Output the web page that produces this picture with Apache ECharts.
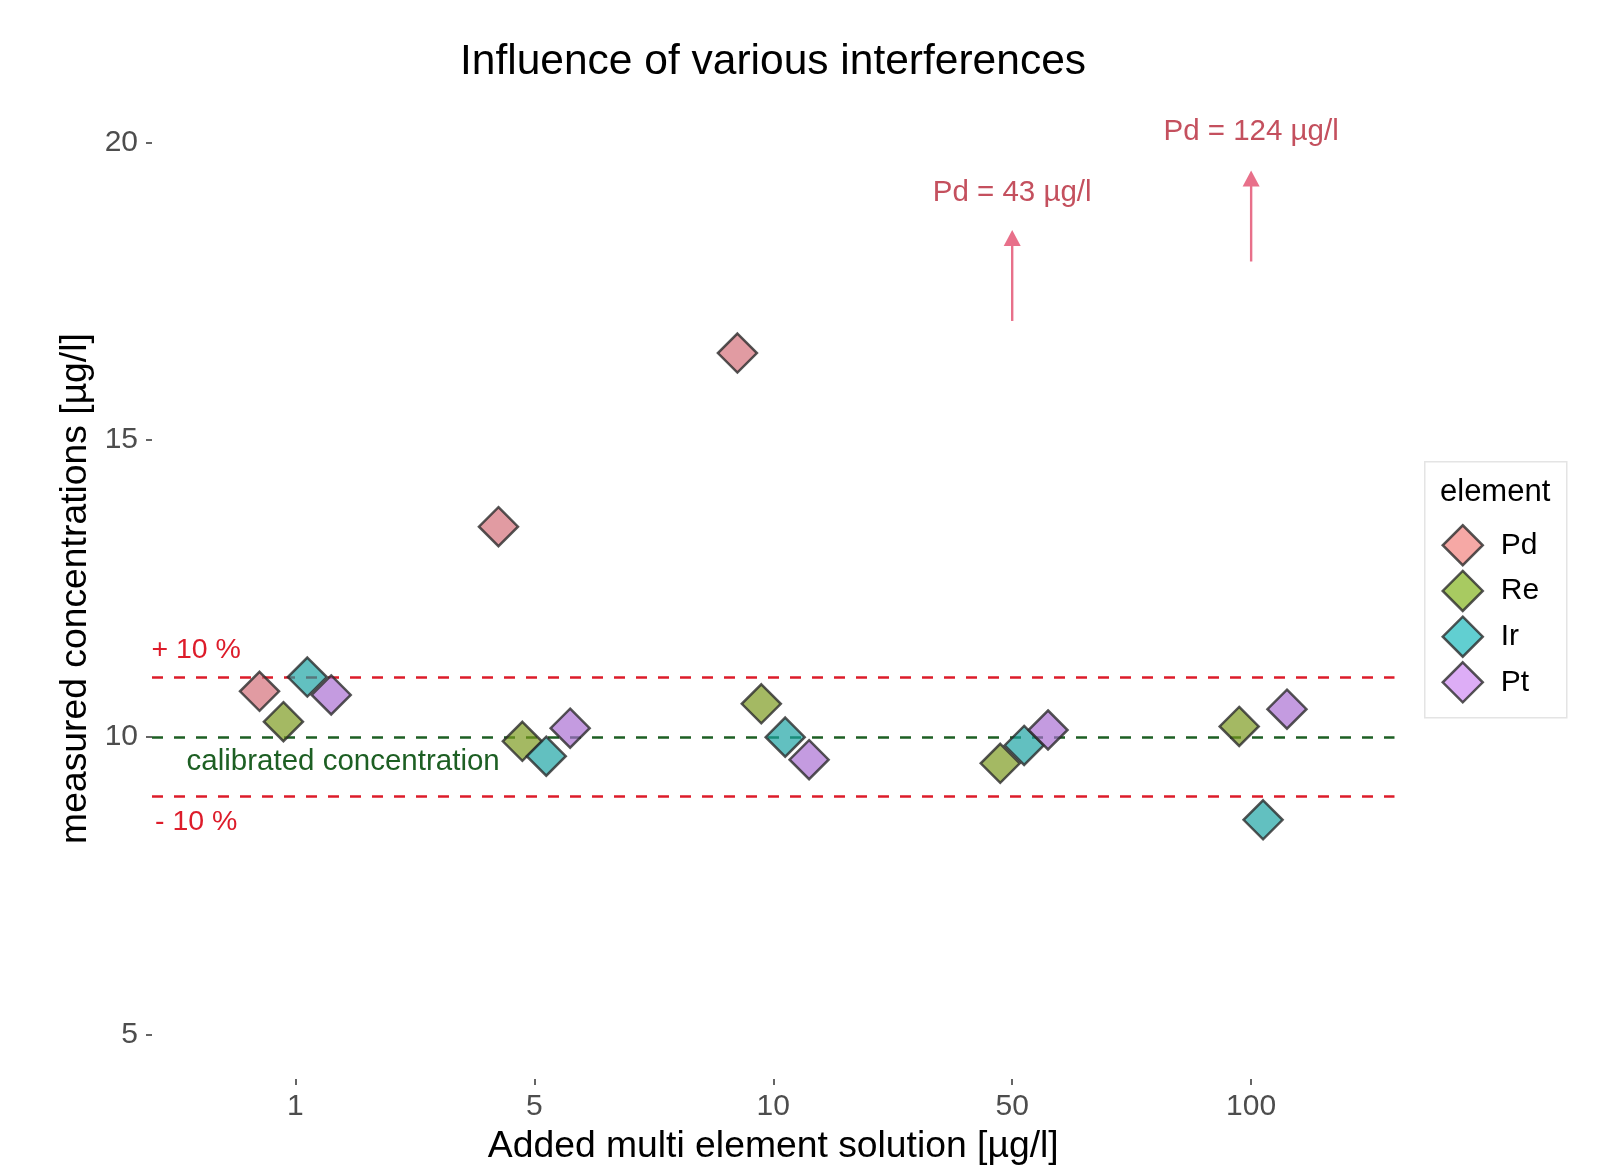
<!DOCTYPE html>
<html>
<head>
<meta charset="utf-8">
<script src="https://cdn.jsdelivr.net/npm/echarts@6/dist/echarts.min.js"></script>
<style>
html,body{margin:0;padding:0;background:#fff;}
#chart{width:1624px;height:1166px;}
</style>
</head>
<body>
<div id="chart"></div>
<script>
// ---- data ----
const categories = ['1', '5', '10', '50', '100'];
const elements = ['Pd', 'Re', 'Ir', 'Pt'];
const pdValues = [10.77, 13.54, 16.46, null, null]; // 50 and 100: off-scale (43, 124)
const reValues = [10.26, 9.93, 10.56, 9.56, 10.18];
const irValues = [11.01, 9.68, 10.00, 9.86, 8.61];
const ptValues = [10.71, 10.15, 9.62, 10.12, 10.47];
const pdOffscale = [null, null, null, 43, 124];
const yTicks = [5, 10, 15, 20];
const refLines = [11, 10, 9];
// arrows for off-scale Pd values: category, start, tip
const arrowCat = ['50', '100'];
const arrowFrom = [17.0, 18.0];
const arrowTo = [18.53, 19.53];
const arrowLabelY = [19.16, 20.18];
// text annotations
const annoText = ['+ 10 %', '- 10 %', 'calibrated concentration'];
const annoX = [0.585, 0.585, 1.2];
const annoY = [11.47, 8.57, 9.58];

const seriesValues = [pdValues, reValues, irValues, ptValues];
const dodge = [-0.15, -0.05, 0.05, 0.15];
const fillColors = ['rgba(211,108,118,0.85)', 'rgba(122,153,26,0.85)', 'rgba(25,162,162,0.85)', 'rgba(168,109,209,0.85)'];
const legendColors = ['#f4928f', '#92bd3a', '#39c3c6', '#d598f4'];
const FONT = '"Liberation Sans", Arial, Helvetica, sans-serif';
const RED = '#dd1c2a', GREEN = '#1d5f23', PINK = '#e8708a', PDTXT = '#c4505e';

const chart = echarts.init(document.getElementById('chart'), null, {renderer: 'canvas'});

const scatterSeries = elements.map((el, k) => ({
  name: el,
  type: 'scatter',
  symbol: 'diamond',
  symbolSize: 39,
  z: 5,
  itemStyle: {color: fillColors[k], borderColor: '#2b2b2b', borderWidth: 2.5},
  data: seriesValues[k].map((v, i) => v == null ? null : [i + 1 + dodge[k], v]).filter(d => d)
}));

// text items: [x, y, text, color, fontSize]
const textItems = [];
arrowCat.forEach((c, i) => {
  const idx = categories.indexOf(c);
  textItems.push([idx + 1, arrowLabelY[i], 'Pd = ' + pdOffscale[idx] + ' µg/l', PDTXT, 29.5]);
});
annoText.forEach((t, i) => {
  textItems.push([annoX[i], annoY[i], t, i === 2 ? GREEN : RED, i === 2 ? 29.5 : 28.5]);
});

const option = {
  animation: false,
  backgroundColor: '#fff',
  textStyle: {fontFamily: FONT},
  title: {
    text: 'Influence of various interferences',
    left: 773, top: 41, textAlign: 'center', padding: 0,
    textStyle: {fontSize: 42.5, fontWeight: 'normal', color: '#000', fontFamily: FONT}
  },
  grid: {left: 152, right: 229.5, top: 98, bottom: 87, containLabel: false, outerBoundsMode: 'none'},
  xAxis: {
    type: 'value', min: 0.4, max: 5.6,
    name: 'Added multi element solution [µg/l]',
    nameLocation: 'middle', nameGap: 49,
    nameTextStyle: {fontSize: 37.3, color: '#000', fontFamily: FONT},
    axisLine: {show: false},
    splitLine: {show: false},
    axisTick: {show: true, length: 6, lineStyle: {color: '#333', width: 1.5}, customValues: [1, 2, 3, 4, 5]},
    axisLabel: {
      fontSize: 30, color: '#4d4d4d', margin: 13, fontFamily: FONT,
      customValues: [1, 2, 3, 4, 5],
      formatter: v => categories[Math.round(v) - 1]
    }
  },
  yAxis: {
    type: 'value', min: 4.25, max: 20.75,
    name: 'measured concentrations [µg/l]',
    nameLocation: 'middle', nameGap: 48,
    nameTextStyle: {fontSize: 37.3, color: '#000', fontFamily: FONT},
    axisLine: {show: false},
    splitLine: {show: false},
    axisTick: {show: true, length: 6, lineStyle: {color: '#333', width: 1.5}, customValues: yTicks},
    axisLabel: {fontSize: 30, color: '#4d4d4d', margin: 14, fontFamily: FONT, customValues: yTicks, padding: [4, 0, 0, 0]}
  },
  legend: {
    orient: 'vertical', left: 1441.5, top: 524, padding: 0,
    itemWidth: 40, itemHeight: 40, itemGap: 3.2,
    textStyle: {fontSize: 30, color: '#000', fontFamily: FONT, padding: [0, 0, 0, 13]},
    data: elements.map((el, k) => ({
      name: el, icon: 'diamond',
      itemStyle: {color: legendColors[k], borderColor: '#2b2b2b', borderWidth: 2.5}
    }))
  },
  graphic: [
    {type: 'rect', left: 1424, top: 461, z: -1, shape: {width: 142, height: 256},
     style: {fill: '#fff', stroke: '#e4e4e4', lineWidth: 1.5}},
    {type: 'text', left: 1440, top: 477, z: 10,
     style: {text: 'element', fontSize: 31, fill: '#000', fontFamily: FONT}}
  ],
  series: [
    {
      name: 'ref', type: 'line', data: [], z: 1, silent: true,
      markLine: {
        silent: true, symbol: 'none', label: {show: false}, animation: false,
        data: refLines.map(v => ({
          yAxis: v,
          lineStyle: {color: v === 10 ? GREEN : RED, type: [11, 11], width: 2.5}
        }))
      }
    },
    ...scatterSeries,
    {
      name: 'arrows', type: 'custom', z: 4, silent: true,
      data: arrowCat.map((c, i) => [categories.indexOf(c) + 1, arrowFrom[i], arrowTo[i]]),
      renderItem: (params, api) => {
        const x = api.value(0);
        const p0 = api.coord([x, api.value(1)]);
        const p1 = api.coord([x, api.value(2)]);
        const h = 16, w = 17;
        return {
          type: 'group',
          children: [
            {type: 'line', shape: {x1: p0[0], y1: p0[1], x2: p1[0], y2: p1[1] + h - 2},
             style: {stroke: PINK, lineWidth: 2.4}},
            {type: 'polygon', shape: {points: [[p1[0], p1[1]], [p1[0] - w / 2, p1[1] + h], [p1[0] + w / 2, p1[1] + h]]},
             style: {fill: PINK}}
          ]
        };
      }
    },
    {
      name: 'texts', type: 'custom', z: 6, silent: true,
      data: textItems,
      renderItem: (params, api) => {
        const d = textItems[params.dataIndex];
        const p = api.coord([d[0], d[1]]);
        return {
          type: 'text', x: p[0], y: p[1],
          style: {text: d[2], fill: d[3], fontSize: d[4], fontFamily: FONT, align: 'center', verticalAlign: 'middle'}
        };
      }
    }
  ]
};
chart.setOption(option);
</script>
</body>
</html>
